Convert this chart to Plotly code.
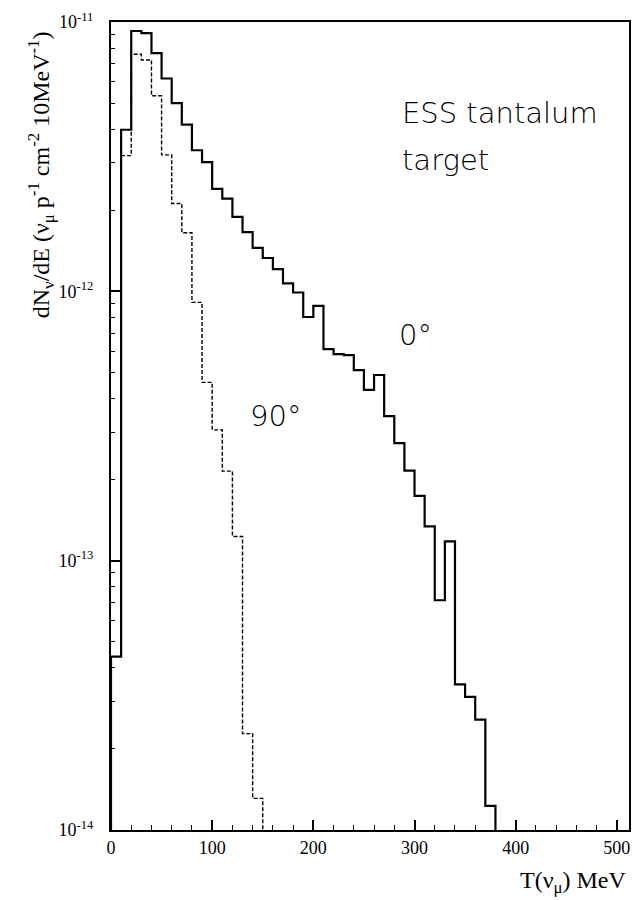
import plotly.graph_objects as go

# ---- data ----
BIN_WIDTH = 10  # MeV
start_0deg = 0
flux_0deg = [4.4e-14, 3.98e-12, 9.26e-12, 9.1e-12, 7.66e-12, 6.17e-12, 5.0e-12, 4.16e-12,
             3.34e-12, 3.02e-12, 2.4e-12, 2.21e-12, 1.89e-12, 1.66e-12, 1.45e-12, 1.33e-12,
             1.21e-12, 1.07e-12, 9.9e-13, 8.03e-13, 8.83e-13, 6.1e-13, 5.85e-13, 5.8e-13,
             5.1e-13, 4.31e-13, 4.89e-13, 3.44e-13, 2.73e-13, 2.16e-13, 1.74e-13, 1.34e-13,
             7.13e-14, 1.18e-13, 3.47e-14, 3.12e-14, 2.57e-14, 1.23e-14]
start_90deg = 10
flux_90deg = [3.19e-12, 7.59e-12, 7.23e-12, 5.32e-12, 3.21e-12, 2.12e-12, 1.65e-12,
              9.1e-13, 4.59e-13, 3.06e-13, 2.15e-13, 1.23e-13, 2.28e-14, 1.31e-14]
BASELINE = 1e-16

x_tickvals = [0, 100, 200, 300, 400, 500]
x_ticktext = ["0", "100", "200", "300", "400", "500"]
y_tickvals = [1e-14, 1e-13, 1e-12, 1e-11]
y_ticktext = ["10<sup>-14</sup>", "10<sup>-13</sup>", "10<sup>-12</sup>", "10<sup>-11</sup>"]


def step_xy(start, values, rise_from_baseline=True):
    edges = [start + i * BIN_WIDTH for i in range(len(values) + 1)]
    if rise_from_baseline:
        x = [start] + edges
        y = [BASELINE] + list(values) + [BASELINE]
    else:
        x = edges
        y = list(values) + [BASELINE]
    return x, y


SERIF = "Liberation Serif, Times New Roman, serif"
SANS = "DejaVu Sans ExtraLight, DejaVu Sans Light, DejaVu Sans, sans-serif"

fig = go.Figure()
x0, y0 = step_xy(start_0deg, flux_0deg)
x9, y9 = step_xy(start_90deg, flux_90deg, rise_from_baseline=False)
fig.add_trace(go.Scatter(x=x9, y=y9, mode="lines", line_shape="hv",
                         line=dict(color="black", width=1.4, dash="4px,2px"),
                         showlegend=False, hoverinfo="skip"))
fig.add_trace(go.Scatter(x=x0, y=y0, mode="lines", line_shape="hv",
                         line=dict(color="black", width=2.2),
                         showlegend=False, hoverinfo="skip"))

fig.update_layout(
    width=635, height=900,
    margin=dict(l=111, r=4, t=22, b=70),
    paper_bgcolor="white", plot_bgcolor="white",
    font=dict(family=SERIF, color="black", size=18),
    showlegend=False,
)
fig.update_xaxes(
    range=[0, 512], showgrid=False, zeroline=False,
    showline=True, linecolor="black", linewidth=2, mirror=True,
    ticks="inside", ticklen=10, tickwidth=1.5, tickcolor="black",
    tickmode="array", tickvals=x_tickvals, ticktext=x_ticktext,
    tickfont=dict(family=SERIF, size=18),
    minor=dict(ticks="inside", ticklen=5, tickwidth=1.2, tickcolor="black", dtick=20, tick0=0,
               showgrid=False),
)
fig.update_yaxes(
    type="log", range=[-14, -11], showgrid=False, zeroline=False,
    showline=True, linecolor="black", linewidth=2, mirror=True,
    ticks="inside", ticklen=10, tickwidth=1.5, tickcolor="black",
    tickmode="array", tickvals=y_tickvals, ticktext=y_ticktext,
    tickfont=dict(family=SERIF, size=18),
    ticklabelstandoff=12,
    minor=dict(ticks="inside", ticklen=4, tickwidth=1.2, tickcolor="black", dtick="D1",
               showgrid=False),
)

# axis titles
fig.add_annotation(
    text="dN<sub>ν</sub>/dE (ν<sub>μ</sub> p<sup>-1</sup> cm<sup>-2</sup> 10MeV<sup>-1</sup>)",
    xref="paper", yref="paper", x=(41 - 111) / 520, y=(830 - 175) / 808,
    xanchor="center", yanchor="middle", textangle=-90, showarrow=False,
    font=dict(family=SERIF, size=24, color="black"),
)
fig.add_annotation(
    text="T(ν<sub>μ</sub>) MeV",
    xref="paper", yref="paper", x=1.0, y=(830 - 882) / 808,
    xanchor="right", yanchor="middle", showarrow=False,
    font=dict(family=SERIF, size=24, color="black"),
)

# in-plot labels
for txt, xv, ly in [("ESS tantalum", 286, -11.338), ("target", 286, -11.512),
                    ("0°", 283, -12.162), ("90°", 135, -12.463)]:
    fig.add_annotation(text=txt, x=xv, y=ly, xref="x", yref="y",
                       xanchor="left", yanchor="middle", showarrow=False,
                       font=dict(family=SANS, size=29, color="black"))

fig.write_html("out.html")
